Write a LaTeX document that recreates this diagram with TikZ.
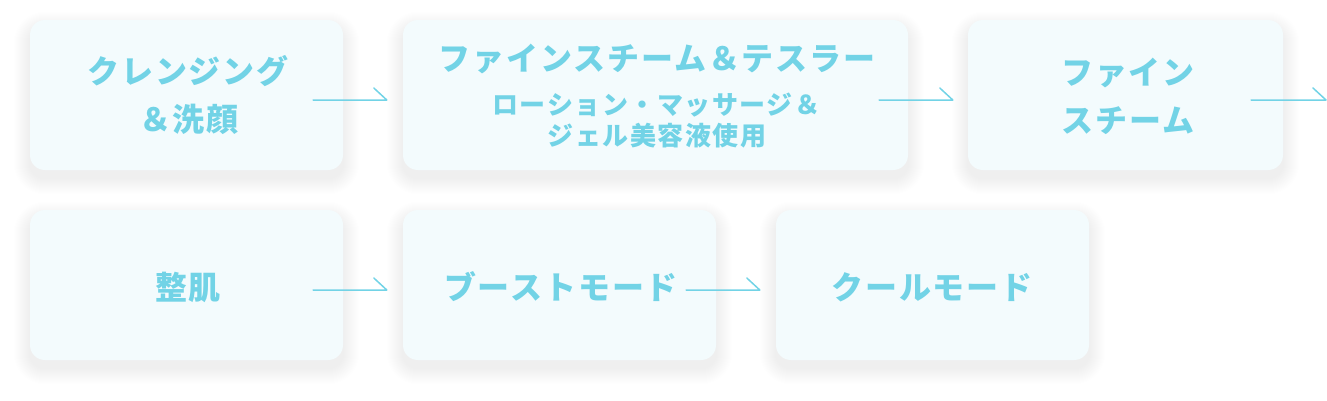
\documentclass[tikz,border=0pt]{standalone}
\usepackage{fontspec}
\usetikzlibrary{calc}
\newfontfamily\jpfont[LetterSpace=6]{Noto Sans CJK JP}
\definecolor{txtcol}{HTML}{72D3E6}
\definecolor{boxfill}{HTML}{F3FBFD}
\pgfdeclarelayer{background}
\pgfsetlayers{background,main}
\tikzset{
  stepbox/.style={rectangle, rounded corners=15pt, fill=boxfill, draw=none, minimum height=150pt, inner sep=0pt},
  bigtxt/.style={anchor=base, text=txtcol, inner sep=0pt, font=\jpfont\bfseries\fontsize{32}{38}\selectfont},
  smalltxt/.style={anchor=base, text=txtcol, inner sep=0pt, font=\jpfont\bfseries\fontsize{26}{31}\selectfont},
  flowline/.style={draw=txtcol, line width=1.5pt, line join=round, line cap=round},
}
\begin{document}
\begin{tikzpicture}[x=1pt,y=-1pt]
\useasboundingbox (0,0) rectangle (1327,400);
% boxes
\node[stepbox, minimum width=313pt] (b1) at (186.5,95) {};
\node[stepbox, minimum width=505pt] (b2) at (655.5,95) {};
\node[stepbox, minimum width=315pt] (b3) at (1125.5,95) {};
\node[stepbox, minimum width=313pt] (b4) at (186.5,285) {};
\node[stepbox, minimum width=313pt] (b5) at (559.5,285) {};
\node[stepbox, minimum width=313pt] (b6) at (932.5,285) {};
% shadows
\begin{pgfonlayer}{background}
\foreach \n in {b1,b2,b3,b4,b5,b6}{
  \foreach \i in {1,...,16}{
    \fill[black, opacity=0.0021, rounded corners=15pt+\i pt]
      ($(\n.north west)+(-\i,8-\i)$) rectangle ($(\n.south east)+(\i,8+\i)$);
  }
}
\end{pgfonlayer}
% texts
\node[bigtxt] (t1a) at (188,83) {クレンジング};
\node[bigtxt] (t1b) at (189,131) {＆洗顔};
\node[bigtxt] (t2a) at (657,70) {ファインスチーム＆テスラー};
\node[smalltxt] (t2b) at (656.5,114) {ローション・マッサージ＆};
\node[smalltxt] (t2c) at (657,145) {ジェル美容液使用};
\node[bigtxt] (t3a) at (1128,84) {ファイン};
\node[bigtxt] (t3b) at (1128,132) {スチーム};
\node[bigtxt] (t4) at (188,299) {整肌};
\node[bigtxt] (t5) at (561,299) {ブーストモード};
\node[bigtxt] (t6) at (932,299) {クールモード};
% connectors
\coordinate (e3) at (1326,100);
\draw[flowline] ($(b1.east)+(-30,5)$) -- ($(b2.west)+(-16,5)$) -- ++(-13,-12);
\draw[flowline] ($(b2.east)+(-29,5)$) -- ($(b3.west)+(-15,5)$) -- ++(-13,-12);
\draw[flowline] ($(b3.east)+(-32,5)$) -- (e3) -- ++(-13,-12);
\draw[flowline] ($(b4.east)+(-30,5)$) -- ($(b5.west)+(-16,5)$) -- ++(-13,-12);
\draw[flowline] ($(b5.east)+(-30,5)$) -- ($(b6.west)+(-16,5)$) -- ++(-13,-12);
\end{tikzpicture}
\end{document}
